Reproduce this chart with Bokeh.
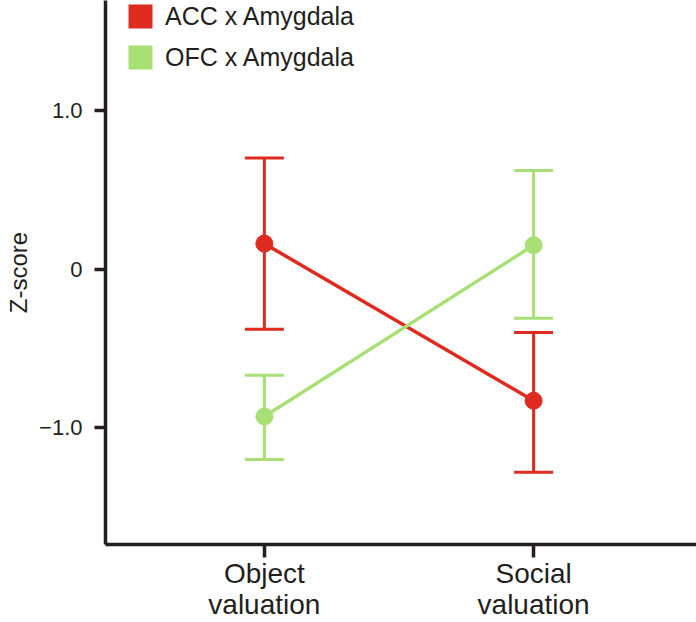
from bokeh.plotting import figure
from bokeh.models import (ColumnDataSource, Whisker, TeeHead, Legend, LegendItem,
                          FixedTicker, Range1d)
from bokeh.embed import file_html
from bokeh.resources import INLINE

# ---- data ----
conditions = ["Object valuation", "Social valuation"]
series_names = ["ACC x Amygdala", "OFC x Amygdala"]
acc_mean = [0.16, -0.83]
acc_upper = [0.70, -0.40]
acc_lower = [-0.38, -1.28]
ofc_mean = [-0.93, 0.15]
ofc_upper = [-0.67, 0.62]
ofc_lower = [-1.20, -0.31]
y_ticks = [-1.0, 0.0, 1.0]
y_tick_labels = ["\u22121.0", "0", "1.0"]

RED = "#de2a1f"
GREEN = "#a8e075"
INK = "#231f20"
FONT = "Liberation Sans"

x_idx = list(range(len(conditions)))
nan = float("nan")

p = figure(width=696, height=622, output_backend="svg", toolbar_location=None,
           x_range=Range1d(-0.59, 1.605), y_range=Range1d(-1.736, 1.692),
           min_border_left=105, min_border_right=0, min_border_top=0,
           min_border_bottom=60)
p.outline_line_color = None
p.xgrid.visible = False
p.ygrid.visible = False
p.background_fill_color = "white"

for ax in (p.xaxis, p.yaxis):
    ax.axis_line_width = 3.5
    ax.axis_line_color = INK
    ax.major_tick_line_width = 3.5
    ax.major_tick_line_color = INK
    ax.major_tick_in = 0
    ax.minor_tick_out = 0
    ax.minor_tick_in = 0
    ax.major_label_text_font = FONT
    ax.major_label_text_color = INK

p.xaxis.ticker = FixedTicker(ticks=x_idx)
p.xaxis.major_label_overrides = {i: c.replace(" ", "\n") for i, c in zip(x_idx, conditions)}
p.xaxis.major_tick_out = 13
p.xaxis.major_label_standoff = 0
p.xaxis.major_label_text_font_size = "28px"
p.xaxis.major_label_text_line_height = 1.0

p.yaxis.ticker = FixedTicker(ticks=y_ticks)
p.yaxis.major_tick_out = 11
p.yaxis.major_label_standoff = 12
p.yaxis.major_label_overrides = {t: l for t, l in zip(y_ticks, y_tick_labels)}
p.yaxis.major_label_text_font_size = "22px"
p.yaxis.axis_label = "Z-score"
p.yaxis.axis_label_text_font = FONT
p.yaxis.axis_label_text_font_size = "24px"
p.yaxis.axis_label_text_font_style = "normal"
p.yaxis.axis_label_text_color = INK
p.yaxis.axis_label_standoff = 4

legend_items = []
for name, mean, up, lo, col in [(series_names[0], acc_mean, acc_upper, acc_lower, RED),
                                (series_names[1], ofc_mean, ofc_upper, ofc_lower, GREEN)]:
    src = ColumnDataSource(dict(x=x_idx, y=mean, upper=up, lower=lo))
    w = Whisker(base="x", upper="upper", lower="lower", source=src,
                line_color=col, line_width=3, level="underlay",
                upper_head=TeeHead(size=39, line_color=col, line_width=3),
                lower_head=TeeHead(size=39, line_color=col, line_width=3))
    p.add_layout(w)
    p.line("x", "y", source=src, line_color=col, line_width=3.5)
    p.scatter("x", "y", source=src, size=17, fill_color=col, line_color=col)
    dummy = p.quad(left=[nan], right=[nan], top=[nan], bottom=[nan],
                   fill_color=col, line_color=None)
    legend_items.append(LegendItem(label=name, renderers=[dummy]))

legend = Legend(items=legend_items, location=(20, 472), glyph_width=30, glyph_height=30,
                label_height=30, spacing=11, padding=0, margin=0, label_standoff=10,
                label_text_font_size="25px", label_text_font=FONT, label_text_color=INK,
                border_line_color=None, background_fill_alpha=0)
p.add_layout(legend)

open("out.html", "w").write(file_html(p, INLINE))
